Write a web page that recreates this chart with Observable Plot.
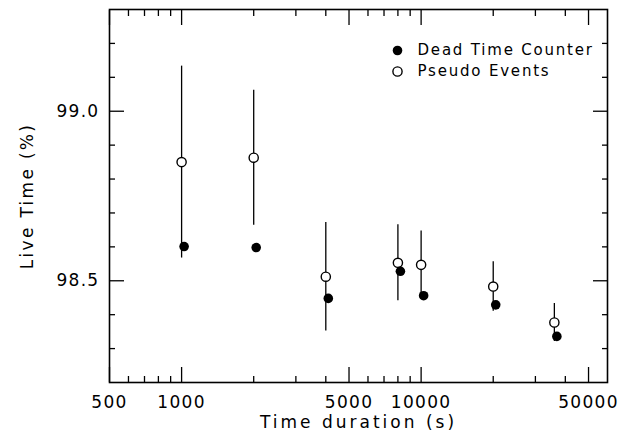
<!DOCTYPE html>
<html><head><meta charset="utf-8">
<script src="https://cdn.jsdelivr.net/npm/d3@7"></script>
<script src="https://cdn.jsdelivr.net/npm/@observablehq/plot@0.6"></script>
<style>body{margin:0;background:#fff}#chart{width:633px;height:442px}</style>
</head><body><div id="chart"></div>
<script>
const durations = [1000, 2000, 4000, 8000, 10000, 20000, 36000];
const deadTimeCounter = [98.601, 98.598, 98.448, 98.528, 98.456, 98.429, 98.336];
const pseudoEvents = [98.850, 98.863, 98.512, 98.553, 98.547, 98.483, 98.377];
const pseudoErrors = [0.283, 0.199, 0.160, 0.112, 0.100, 0.073, 0.056];
const xMajorTicks = [500, 1000, 5000, 10000, 50000];
const xMinorTicks = [600, 700, 800, 900, 2000, 3000, 4000, 6000, 7000, 8000, 9000, 20000, 30000, 40000];
const yMajorTicks = [98.5, 99.0];
const yMinorTicks = [98.3, 98.4, 98.6, 98.7, 98.8, 98.9, 99.1, 99.2];
const seriesNames = ["Dead Time Counter", "Pseudo Events"];
const xLabel = "Time duration (s)";
const yLabel = "Live Time (%)";

const rows = durations.map((t, i) => ({t, dead: deadTimeCounter[i], pseudo: pseudoEvents[i], err: pseudoErrors[i]}));
const font = "DejaVu Sans";
const sw = 1.3;

const plot = Plot.plot({
  width: 633, height: 442,
  marginLeft: 109, marginRight: 26, marginTop: 9, marginBottom: 60,
  style: {fontFamily: font, background: "#fff", color: "#000", fontSize: "17px"},
  x: {type: "log", domain: [500, 60000], label: null},
  y: {domain: [98.2, 99.3], label: null},
  marks: [
    // inside ticks, all four sides
    Plot.axisX(xMajorTicks, {anchor: "bottom", tickSize: -15, fill: "none", strokeWidth: sw, label: null}),
    Plot.axisX(xMinorTicks, {anchor: "bottom", tickSize: -6, fill: "none", strokeWidth: sw, label: null}),
    Plot.axisX(xMajorTicks, {anchor: "top", tickSize: -15, fill: "none", strokeWidth: sw, label: null}),
    Plot.axisX(xMinorTicks, {anchor: "top", tickSize: -6, fill: "none", strokeWidth: sw, label: null}),
    Plot.axisY(yMajorTicks, {anchor: "left", tickSize: -15, fill: "none", strokeWidth: sw, label: null}),
    Plot.axisY(yMinorTicks, {anchor: "left", tickSize: -6, fill: "none", strokeWidth: sw, label: null}),
    Plot.axisY(yMajorTicks, {anchor: "right", tickSize: -15, fill: "none", strokeWidth: sw, label: null}),
    Plot.axisY(yMinorTicks, {anchor: "right", tickSize: -6, fill: "none", strokeWidth: sw, label: null}),
    // tick labels
    Plot.text(xMajorTicks, {x: d => d, frameAnchor: "bottom", dy: 20, text: d => String(d), textAnchor: "middle", lineAnchor: "middle", fontSize: 17}),
    Plot.text(yMajorTicks, {y: d => d, frameAnchor: "left", dx: -10, text: d => d.toFixed(1), textAnchor: "end", lineAnchor: "middle", fontSize: 17}),
    // axis titles
    Plot.text([xLabel], {frameAnchor: "bottom", dy: 40, textAnchor: "middle", lineAnchor: "middle", fontSize: 17}),
    Plot.text([yLabel], {frameAnchor: "left", dx: -82, rotate: -90, textAnchor: "middle", lineAnchor: "middle", fontSize: 17}),
    // data
    Plot.ruleX(rows, {x: "t", y1: d => d.pseudo - d.err, y2: d => d.pseudo + d.err, stroke: "#000", strokeWidth: sw}),
    Plot.dot(rows, {x: "t", y: "pseudo", r: 4.6, fill: "#fff", stroke: "#000", strokeWidth: 1.4}),
    Plot.dot(rows, {x: "t", y: "dead", dx: 2.5, r: 4.8, fill: "#000", stroke: "none"}),
    // legend
    Plot.dot([seriesNames[0]], {x: null, y: null, frameAnchor: "top-right", dx: -210, dy: 41, r: 4.8, fill: "#000", stroke: "none"}),
    Plot.dot([seriesNames[1]], {x: null, y: null, frameAnchor: "top-right", dx: -210, dy: 62, r: 4.6, fill: "#fff", stroke: "#000", strokeWidth: 1.4}),
    Plot.text([seriesNames[0]], {frameAnchor: "top-right", dx: -190, dy: 41, textAnchor: "start", lineAnchor: "middle", fontSize: 15}),
    Plot.text([seriesNames[1]], {frameAnchor: "top-right", dx: -190, dy: 62, textAnchor: "start", lineAnchor: "middle", fontSize: 15}),
    Plot.frame({stroke: "#000", strokeWidth: 1.6})
  ]
});
// letter spacing to mimic the wide-set plotting font
const spacing = new Map([
  [xLabel, "3px"], [yLabel, "2.3px"],
  [seriesNames[0], "1.8px"], [seriesNames[1], "1.8px"]
]);
d3.select(plot).selectAll("text").each(function() {
  const t = this.textContent;
  this.style.letterSpacing = spacing.get(t) || "1.3px";
});
document.getElementById("chart").append(plot);
</script>
</body></html>
